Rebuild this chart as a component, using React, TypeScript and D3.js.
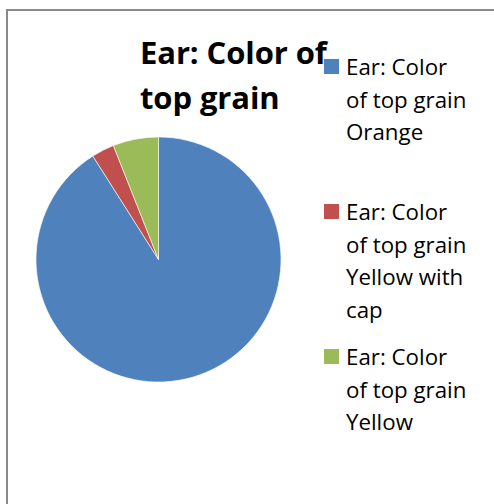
import React from "react";
import * as d3 from "d3";

// Ear colour categories and their counts
const categories = ["Orange", "Yellow with cap", "Yellow"];
const values = [91, 3, 6];
const colors = ["#4F81BD", "#C0504D", "#9BBB59"];
const titleLines = ["Ear: Color of", "top grain"];
// Legend labels, already broken into lines as they wrap in the legend box
const legendLines = [
  ["Ear: Color", "of top grain", "Orange"],
  ["Ear: Color", "of top grain", "Yellow with", "cap"],
  ["Ear: Color", "of top grain", "Yellow"],
];

const W = 494;
const H = 504;
const FONT = "'Open Sans', Lato, 'DejaVu Sans', sans-serif";

export default function App() {
  const cx = 158.5;
  const cy = 259.5;
  const r = 122.5;

  const pie = d3
    .pie<number>()
    .sort(null)
    .value((d) => d)
    .startAngle(0)
    .endAngle(2 * Math.PI);
  const arcs = pie(values);
  const arc = d3.arc<d3.PieArcDatum<number>>().innerRadius(0).outerRadius(r);

  const legendX = 324;
  const legendTop = [59, 204, 349];
  const lineStep = 32.6;

  return (
    <svg
      width={W}
      height={H}
      style={{ position: "absolute", left: 0, top: 0, background: "#fff" }}
      fontFamily={FONT}
    >
      <rect x={0} y={0} width={W} height={H} fill="#fff" />
      <rect
        x={7}
        y={10}
        width={W + 40}
        height={H + 40}
        fill="none"
        stroke="#8a8a8a"
        strokeWidth={2}
      />

      <g transform={`translate(${cx},${cy})`}>
        {arcs.map((a, i) => (
          <path
            key={categories[i]}
            d={arc(a) ?? ""}
            fill={colors[i]}
            stroke="#fff"
            strokeWidth={0.6}
          />
        ))}
      </g>

      {titleLines.map((t, i) => (
        <text
          key={t}
          x={140}
          y={63.5 + i * 45}
          fontSize={31}
          fontWeight={700}
          letterSpacing={-0.1}
          fill="#000"
        >
          {t}
        </text>
      ))}

      {legendLines.map((lines, i) => (
        <g key={categories[i]}>
          <rect
            x={legendX}
            y={legendTop[i]}
            width={15}
            height={15}
            fill={colors[i]}
          />
          {lines.map((ln, j) => (
            <text
              key={j}
              x={346}
              y={legendTop[i] + 16 + j * lineStep}
              fontSize={22.3}
              fill="#000"
            >
              {ln}
            </text>
          ))}
        </g>
      ))}
    </svg>
  );
}
